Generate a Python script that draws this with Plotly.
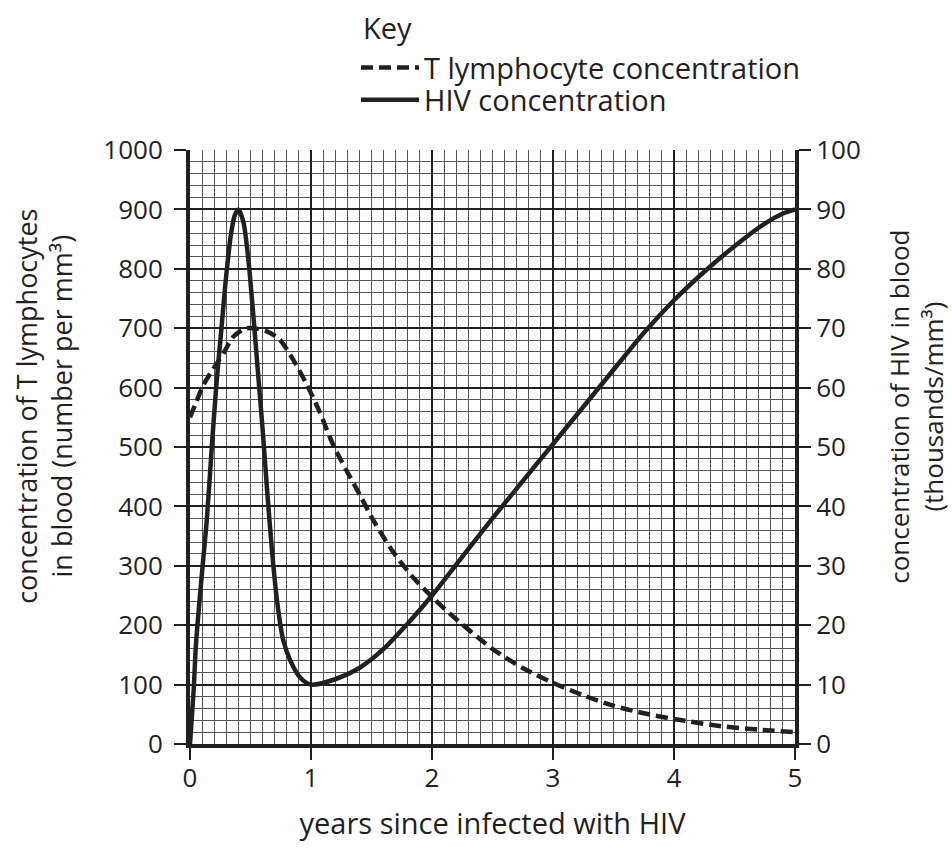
import plotly.graph_objects as go

# ---- data ----
t_years = [0, 0.05, 0.11, 0.19, 0.28, 0.36, 0.47, 0.63, 0.74, 0.85, 0.96, 1.07, 1.18, 1.30,
           1.41, 1.52, 1.68, 1.85, 2.01, 2.15, 2.5, 2.75, 3.0, 3.25, 3.49, 3.79, 4.09, 4.39, 4.7, 5.0]
t_conc = [550, 575, 604, 631, 659, 686, 700, 695, 681, 648, 607, 560, 505, 458,
          417, 375, 323, 279, 246, 219, 160, 128, 103, 82, 65, 50, 39, 30, 24, 20]

hiv_years = [0, 0.03, 0.05, 0.10, 0.14, 0.18, 0.22, 0.26, 0.30, 0.34, 0.37, 0.40, 0.44, 0.48,
             0.52, 0.56, 0.60, 0.64, 0.68, 0.72, 0.77, 0.83, 0.91, 1.0, 1.2, 1.4, 1.6, 1.8,
             2.0, 2.25, 2.5, 3.0, 3.5, 3.75, 4.0, 4.25, 4.5, 4.75, 4.9, 5.0]
hiv_conc = [0, 9, 17, 29, 38, 50, 61, 70, 79, 86, 89, 90, 88, 82,
            73, 63, 53, 42, 32, 24, 17.5, 14, 11.2, 10, 10.9, 12.8, 16.0, 20.3,
            25, 31.5, 38, 50.5, 63, 69.2, 74.7, 79.5, 83.8, 87.6, 89.3, 90]

x_ticks = [0, 1, 2, 3, 4, 5]
left_ticks = list(range(0, 1001, 100))
right_ticks = list(range(0, 101, 10))

INK = "#231f20"
FONT = "Open Sans"

fig = go.Figure()
fig.add_trace(go.Scatter(
    x=t_years, y=t_conc, mode="lines", name="T lymphocyte concentration",
    line=dict(color=INK, width=4.5, dash="12px,6px", shape="spline", smoothing=0.8),
    yaxis="y", legend="legend"))
fig.add_trace(go.Scatter(
    x=hiv_years, y=hiv_conc, mode="lines", name="HIV concentration",
    line=dict(color=INK, width=4.5, shape="spline", smoothing=0.8),
    yaxis="y2", legend="legend2"))

PX0, PW, PY0, PH = 190, 605, 756, 606  # plot area in pixels (left, width, bottom, height)

def px_x(p):
    return (p - PX0) / PW

def px_y(p):
    return (PY0 - p) / PH

legend_common = dict(xanchor="left", yanchor="middle", font=dict(size=29, family=FONT, color=INK),
                     itemwidth=58, bgcolor="rgba(0,0,0,0)", borderwidth=0)

fig.update_layout(
    width=952, height=848,
    margin=dict(l=190, r=157, t=150, b=92),
    paper_bgcolor="white", plot_bgcolor="white",
    font=dict(family=FONT, size=26, color=INK),
    showlegend=True,
    legend=dict(x=px_x(356), y=px_y(66), **legend_common),
    legend2=dict(x=px_x(356), y=px_y(99), **legend_common),
    xaxis=dict(
        range=[0, 5], tickmode="array", tickvals=x_ticks, ticktext=[str(v) for v in x_ticks],
        showgrid=True, gridcolor=INK, gridwidth=2,
        minor=dict(dtick=0.1, showgrid=True, gridcolor="#555555", gridwidth=1),
        showline=True, linecolor=INK, linewidth=4,
        ticks="outside", ticklen=12, tickwidth=2, tickcolor=INK,
        zeroline=False, ticklabelstandoff=-4,
        title=dict(text="years since infected with HIV", standoff=20, font=dict(size=29)),
        tickfont=dict(size=26),
    ),
    yaxis=dict(
        range=[0, 1000], tickmode="array", tickvals=left_ticks,
        showgrid=True, gridcolor=INK, gridwidth=2,
        minor=dict(dtick=20, showgrid=True, gridcolor="#555555", gridwidth=1),
        showline=True, linecolor=INK, linewidth=4,
        ticks="outside", ticklen=12, tickwidth=2, tickcolor=INK,
        zeroline=False, tickfont=dict(size=26), ticklabelstandoff=6,
    ),
    yaxis2=dict(
        range=[0, 100], tickmode="array", tickvals=right_ticks,
        overlaying="y", side="right", showgrid=False,
        showline=True, linecolor=INK, linewidth=4,
        ticks="outside", ticklen=12, tickwidth=2, tickcolor=INK,
        zeroline=False, tickfont=dict(size=26),
    ),
    annotations=[
        dict(text="Key", xref="paper", yref="paper", x=px_x(361), y=px_y(25),
             xanchor="left", yanchor="middle", showarrow=False,
             font=dict(size=29, family=FONT, color=INK)),
        dict(text="concentration of T lymphocytes<br>in blood (number per mm³)",
             xref="paper", yref="paper", x=px_x(44), y=px_y(412),
             xanchor="center", yanchor="middle", textangle=-90, showarrow=False,
             font=dict(size=27, family=FONT, color=INK)),
        dict(text="concentration of HIV in blood<br>(thousands/mm³)",
             xref="paper", yref="paper", x=px_x(916), y=px_y(412),
             xanchor="center", yanchor="middle", textangle=-90, showarrow=False,
             font=dict(size=26, family=FONT, color=INK)),
    ],
)

fig.write_html(
    "out.html",
    config={"displayModeBar": False},
    post_script="document.body.style.margin='0px';document.body.style.overflow='hidden';",
)
